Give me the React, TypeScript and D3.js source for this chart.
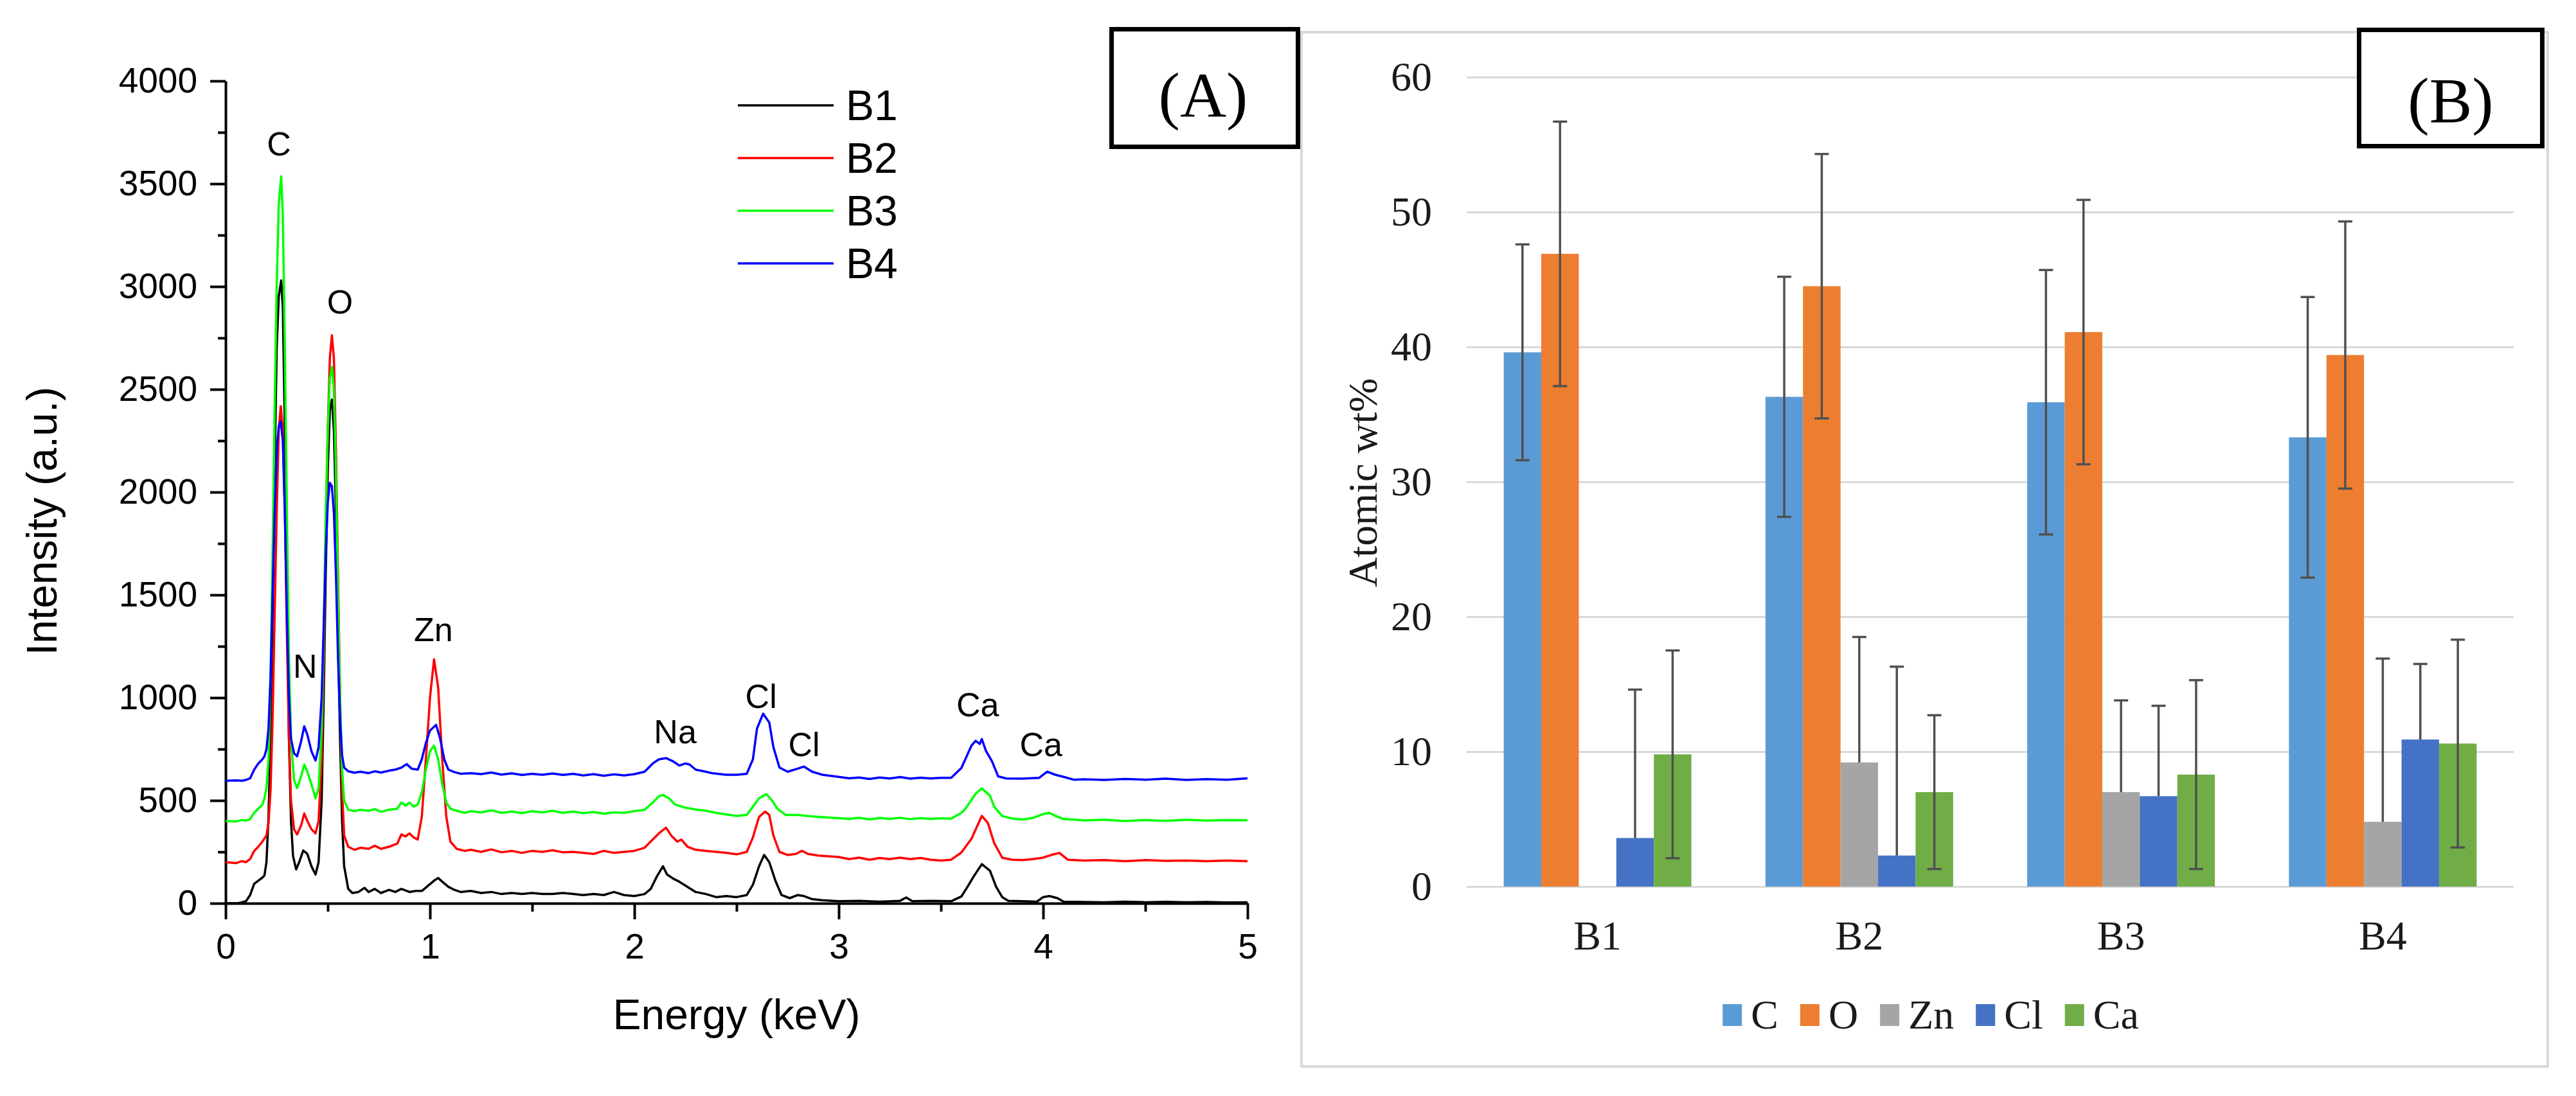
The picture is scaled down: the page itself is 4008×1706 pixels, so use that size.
import { useEffect, useRef } from 'react'
import * as d3 from 'd3'

// ---------- Panel A: EDS spectra (energy keV, intensity a.u.) ----------
const spectrumNames = ['B1', 'B2', 'B3', 'B4']
const spectrumColors = ['#000000', '#ff0000', '#00ff00', '#0000ff']

const spectrumB1: [number, number][] = [
  [0, 0], [0.06, 0], [0.08, 5], [0.1, 10], [0.12, 40], [0.14, 95], [0.16, 110], [0.18, 125], [0.19, 135],
  [0.2, 200], [0.21, 420], [0.22, 800], [0.23, 1400], [0.24, 2100], [0.25, 2700], [0.26, 2950], [0.272, 3030],
  [0.28, 2900], [0.29, 2300], [0.3, 1500], [0.31, 800], [0.32, 400], [0.33, 230], [0.345, 165], [0.36, 200],
  [0.38, 257], [0.4, 240], [0.42, 180], [0.44, 140], [0.455, 200], [0.47, 500], [0.48, 1000], [0.49, 1600],
  [0.5, 2100], [0.51, 2400], [0.52, 2450], [0.53, 2300], [0.54, 1900], [0.55, 1300], [0.56, 800], [0.57, 400],
  [0.58, 180], [0.6, 70], [0.62, 50], [0.65, 55], [0.68, 75], [0.7, 55], [0.73, 70], [0.76, 50], [0.8, 65],
  [0.83, 55], [0.86, 70], [0.9, 55], [0.93, 60], [0.96, 60], [0.99, 85], [1.02, 110], [1.04, 123], [1.06, 105],
  [1.09, 80], [1.12, 65], [1.15, 55], [1.2, 60], [1.25, 50], [1.3, 55], [1.35, 45], [1.4, 50], [1.45, 45],
  [1.5, 50], [1.55, 45], [1.6, 45], [1.65, 50], [1.7, 45], [1.75, 40], [1.8, 45], [1.85, 40], [1.9, 55],
  [1.95, 40], [2.0, 35], [2.05, 45], [2.08, 70], [2.11, 130], [2.14, 180], [2.16, 140], [2.19, 120], [2.22, 105],
  [2.26, 80], [2.3, 55], [2.35, 45], [2.4, 30], [2.45, 35], [2.5, 30], [2.55, 40], [2.58, 90], [2.61, 180],
  [2.635, 235], [2.66, 200], [2.69, 110], [2.72, 40], [2.76, 25], [2.8, 40], [2.83, 35], [2.87, 20], [2.92, 15],
  [3.0, 10], [3.1, 12], [3.2, 8], [3.3, 12], [3.33, 28], [3.36, 10], [3.45, 12], [3.55, 10], [3.6, 33],
  [3.63, 80], [3.66, 130], [3.7, 190], [3.74, 158], [3.77, 80], [3.8, 30], [3.83, 12], [3.9, 10], [3.97, 8],
  [4.0, 30], [4.03, 35], [4.07, 25], [4.1, 8], [4.2, 6], [4.3, 5], [4.4, 8], [4.5, 5], [4.6, 7], [4.7, 5],
  [4.8, 6], [4.9, 4], [5.0, 5],
]

const spectrumB2: [number, number][] = [
  [0, 200], [0.05, 195], [0.08, 205], [0.1, 200], [0.12, 215], [0.14, 255], [0.16, 275], [0.18, 300], [0.2, 330],
  [0.21, 390], [0.22, 550], [0.23, 900], [0.24, 1400], [0.25, 1900], [0.26, 2300], [0.27, 2418], [0.28, 2300],
  [0.29, 1900], [0.3, 1300], [0.31, 800], [0.32, 500], [0.335, 360], [0.35, 335], [0.37, 380], [0.385, 437],
  [0.4, 400], [0.42, 360], [0.44, 340], [0.455, 400], [0.47, 700], [0.48, 1200], [0.49, 1800], [0.5, 2300],
  [0.51, 2650], [0.52, 2763], [0.53, 2650], [0.54, 2200], [0.55, 1600], [0.56, 1000], [0.57, 550], [0.58, 330],
  [0.6, 275], [0.63, 260], [0.66, 270], [0.7, 265], [0.73, 280], [0.76, 265], [0.8, 275], [0.84, 290],
  [0.86, 335], [0.88, 325], [0.9, 340], [0.92, 320], [0.94, 310], [0.96, 420], [0.98, 700], [1.0, 1000],
  [1.02, 1187], [1.04, 1050], [1.06, 700], [1.08, 420], [1.1, 300], [1.13, 265], [1.17, 255], [1.2, 260],
  [1.25, 250], [1.3, 262], [1.35, 248], [1.4, 255], [1.45, 245], [1.5, 255], [1.55, 250], [1.6, 258],
  [1.65, 248], [1.7, 250], [1.75, 245], [1.8, 240], [1.85, 255], [1.9, 245], [1.95, 250], [2.0, 255],
  [2.05, 270], [2.09, 310], [2.12, 340], [2.155, 368], [2.18, 330], [2.21, 300], [2.23, 310], [2.26, 275],
  [2.3, 260], [2.35, 255], [2.4, 250], [2.45, 245], [2.5, 238], [2.55, 250], [2.58, 320], [2.61, 420],
  [2.64, 446], [2.66, 430], [2.68, 330], [2.71, 250], [2.75, 235], [2.79, 240], [2.82, 255], [2.85, 240],
  [2.9, 232], [3.0, 225], [3.05, 215], [3.1, 222], [3.15, 212], [3.2, 220], [3.25, 215], [3.3, 222],
  [3.35, 215], [3.4, 220], [3.45, 212], [3.5, 208], [3.55, 212], [3.6, 247], [3.65, 315], [3.7, 425],
  [3.73, 390], [3.76, 294], [3.8, 221], [3.85, 212], [3.9, 210], [3.95, 215], [4.0, 222], [4.04, 235],
  [4.08, 245], [4.12, 212], [4.2, 208], [4.3, 210], [4.4, 205], [4.5, 210], [4.6, 206], [4.7, 208],
  [4.8, 205], [4.9, 208], [5.0, 205],
]

const spectrumB3: [number, number][] = [
  [0, 400], [0.05, 398], [0.08, 405], [0.1, 402], [0.12, 410], [0.14, 440], [0.16, 460], [0.18, 480], [0.19, 510],
  [0.2, 560], [0.21, 700], [0.22, 1100], [0.23, 1700], [0.24, 2400], [0.25, 3000], [0.26, 3400], [0.272, 3536],
  [0.28, 3350], [0.29, 2700], [0.3, 1900], [0.31, 1200], [0.32, 800], [0.335, 600], [0.35, 560], [0.37, 620],
  [0.385, 675], [0.4, 640], [0.42, 580], [0.44, 510], [0.455, 560], [0.47, 850], [0.48, 1300], [0.49, 1900],
  [0.5, 2300], [0.51, 2550], [0.52, 2609], [0.53, 2500], [0.54, 2100], [0.55, 1500], [0.56, 1000], [0.57, 650],
  [0.58, 500], [0.6, 455], [0.63, 448], [0.66, 455], [0.7, 450], [0.73, 458], [0.76, 445], [0.8, 455],
  [0.84, 460], [0.86, 490], [0.88, 475], [0.9, 490], [0.92, 470], [0.94, 480], [0.96, 540], [0.98, 650],
  [1.0, 740], [1.02, 767], [1.04, 700], [1.06, 580], [1.08, 490], [1.1, 460], [1.13, 450], [1.17, 440],
  [1.2, 448], [1.25, 442], [1.3, 452], [1.35, 440], [1.4, 446], [1.45, 438], [1.5, 448], [1.55, 442],
  [1.6, 450], [1.65, 440], [1.7, 446], [1.75, 438], [1.8, 444], [1.85, 436], [1.9, 442], [1.95, 440],
  [2.0, 448], [2.05, 455], [2.09, 490], [2.12, 520], [2.14, 527], [2.17, 510], [2.2, 480], [2.25, 465],
  [2.3, 456], [2.35, 450], [2.4, 440], [2.45, 432], [2.5, 425], [2.55, 430], [2.58, 470], [2.61, 510],
  [2.645, 531], [2.67, 505], [2.7, 460], [2.74, 430], [2.8, 430], [2.85, 424], [2.9, 420], [3.0, 414],
  [3.05, 410], [3.1, 416], [3.15, 408], [3.2, 415], [3.25, 410], [3.3, 416], [3.35, 409], [3.4, 414],
  [3.45, 410], [3.5, 413], [3.55, 412], [3.6, 440], [3.62, 460], [3.67, 533], [3.7, 559], [3.74, 523],
  [3.76, 471], [3.8, 424], [3.85, 412], [3.9, 408], [3.95, 415], [4.0, 434], [4.03, 440], [4.06, 425],
  [4.1, 410], [4.2, 403], [4.3, 406], [4.4, 400], [4.5, 405], [4.6, 401], [4.7, 406], [4.8, 402],
  [4.9, 405], [5.0, 404],
]

const spectrumB4: [number, number][] = [
  [0, 596], [0.05, 598], [0.08, 596], [0.1, 600], [0.12, 608], [0.14, 650], [0.16, 680], [0.18, 700], [0.19, 715],
  [0.2, 750], [0.21, 850], [0.22, 1100], [0.23, 1500], [0.24, 1900], [0.25, 2200], [0.26, 2320], [0.27, 2344],
  [0.28, 2250], [0.29, 1900], [0.3, 1400], [0.31, 1000], [0.32, 800], [0.335, 730], [0.35, 715], [0.37, 790],
  [0.385, 861], [0.4, 820], [0.42, 740], [0.44, 694], [0.455, 760], [0.47, 1000], [0.48, 1350], [0.49, 1700],
  [0.5, 1950], [0.51, 2045], [0.52, 2030], [0.53, 1900], [0.54, 1600], [0.55, 1200], [0.56, 900], [0.57, 720],
  [0.58, 660], [0.6, 642], [0.63, 635], [0.66, 640], [0.7, 633], [0.73, 642], [0.76, 636], [0.8, 645],
  [0.83, 650], [0.86, 660], [0.886, 677], [0.91, 655], [0.94, 650], [0.96, 700], [0.98, 780], [1.0, 840],
  [1.03, 868], [1.05, 800], [1.07, 700], [1.09, 650], [1.12, 638], [1.15, 630], [1.2, 633], [1.25, 628],
  [1.3, 636], [1.35, 626], [1.4, 632], [1.45, 624], [1.5, 630], [1.55, 625], [1.6, 631], [1.65, 624],
  [1.7, 630], [1.75, 622], [1.8, 628], [1.85, 620], [1.9, 627], [1.95, 622], [2.0, 628], [2.05, 640],
  [2.09, 680], [2.12, 700], [2.156, 706], [2.19, 690], [2.22, 670], [2.25, 680], [2.27, 675], [2.3, 650],
  [2.35, 640], [2.38, 633], [2.45, 625], [2.5, 625], [2.55, 630], [2.58, 700], [2.6, 850], [2.63, 922],
  [2.66, 880], [2.68, 760], [2.71, 660], [2.75, 640], [2.8, 655], [2.83, 665], [2.87, 640], [2.92, 625],
  [3.0, 615], [3.05, 608], [3.1, 612], [3.15, 605], [3.2, 612], [3.25, 607], [3.3, 614], [3.35, 606],
  [3.4, 611], [3.45, 607], [3.5, 610], [3.55, 610], [3.6, 658], [3.65, 768], [3.67, 790], [3.69, 775],
  [3.7, 799], [3.72, 742], [3.75, 690], [3.78, 617], [3.82, 607], [3.9, 606], [3.98, 610], [4.02, 640],
  [4.06, 625], [4.1, 615], [4.15, 601], [4.2, 603], [4.3, 600], [4.4, 605], [4.5, 601], [4.6, 606],
  [4.7, 600], [4.8, 604], [4.9, 601], [5.0, 608],
]

const spectra = [spectrumB1, spectrumB2, spectrumB3, spectrumB4]

// peak annotations (label, energy keV, intensity at text baseline)
const peakLabels = ['C', 'O', 'N', 'Zn', 'Na', 'Cl', 'Cl', 'Ca', 'Ca']
const peakEnergy = [0.261, 0.56, 0.389, 1.017, 2.2, 2.62, 2.83, 3.68, 3.99]
const peakLabelY = [3637, 2869, 1097, 1275, 778, 950, 716, 909, 716]

const xTicksA = [0, 1, 2, 3, 4, 5]
const xMinorA = [0.5, 1.5, 2.5, 3.5, 4.5]
const yTicksA = [0, 500, 1000, 1500, 2000, 2500, 3000, 3500, 4000]
const yMinorA = [250, 750, 1250, 1750, 2250, 2750, 3250, 3750]

// ---------- Panel B: atomic wt% ----------
const samples = ['B1', 'B2', 'B3', 'B4']
const elements = ['C', 'O', 'Zn', 'Cl', 'Ca']
const elementColors = ['#5b9bd5', '#ed7d31', '#a5a5a5', '#4472c4', '#70ad47']
const valC = [39.6, 36.3, 35.9, 33.3]
const valO = [46.9, 44.5, 41.1, 39.4]
const valZn = [0, 9.2, 7.0, 4.8]
const valCl = [3.6, 2.3, 6.7, 10.9]
const valCa = [9.8, 7.0, 8.3, 10.6]
const errPlusC = [8.0, 8.9, 9.8, 10.4]
const errPlusO = [9.8, 9.8, 9.8, 9.9]
const errPlusZn = [0, 9.3, 6.8, 12.1]
const errPlusCl = [11.0, 14.0, 6.7, 5.6]
const errPlusCa = [7.7, 5.7, 7.0, 7.7]
const errMinusC = [8.0, 8.9, 9.8, 10.4]
const errMinusO = [9.8, 9.8, 9.8, 9.9]
const errMinusZn = [0, 0, 0, 0]
const errMinusCl = [0, 0, 0, 0]
const errMinusCa = [7.7, 5.7, 7.0, 7.7]
const yTicksB = [0, 10, 20, 30, 40, 50, 60]

const sans = '"Liberation Sans", Arial, sans-serif'
const serif = '"Liberation Serif", "Times New Roman", serif'

export default function App() {
  const ref = useRef<SVGSVGElement>(null)

  useEffect(() => {
    if (!ref.current) return
    const svg = d3.select(ref.current)
    svg.selectAll('*').remove()

    // ===== Panel A =====
    const x = d3.scaleLinear().domain([0, 5]).range([351, 1941])
    const y = d3.scaleLinear().domain([0, 4000]).range([1406, 126])
    const gA = svg.append('g')

    // minor ticks
    const xMinor = gA.append('g').attr('transform', `translate(0,${y(0)})`)
      .call(d3.axisBottom(x).tickValues(xMinorA).tickSize(13).tickFormat(() => '').tickSizeOuter(0))
    xMinor.select('.domain').remove()
    const yMinor = gA.append('g').attr('transform', `translate(${x(0)},0)`)
      .call(d3.axisLeft(y).tickValues(yMinorA).tickSize(12).tickFormat(() => '').tickSizeOuter(0))
    yMinor.select('.domain').remove()

    const xAx = gA.append('g').attr('transform', `translate(0,${y(0)})`)
      .call(d3.axisBottom(x).tickValues(xTicksA).tickSize(25).tickPadding(22).tickFormat(d3.format('d')).tickSizeOuter(0))
    const yAx = gA.append('g').attr('transform', `translate(${x(0)},0)`)
      .call(d3.axisLeft(y).tickValues(yTicksA).tickSize(24).tickPadding(20).tickFormat(d3.format('d')).tickSizeOuter(0))
    ;[xAx, yAx, xMinor, yMinor].forEach(a => {
      a.selectAll('line').attr('stroke', '#000').attr('stroke-width', 4)
      a.select('.domain').attr('stroke', '#000').attr('stroke-width', 4)
      a.selectAll('text').style('font-family', sans).style('font-size', '55px').attr('fill', '#000')
    })

    // spectra
    const line = d3.line<[number, number]>().x(d => x(d[0])).y(d => y(d[1]))
    spectra.forEach((s, i) => {
      gA.append('path')
        .attr('d', line(s))
        .attr('fill', 'none')
        .attr('stroke', spectrumColors[i])
        .attr('stroke-width', 3.5)
        .attr('stroke-linejoin', 'round')
    })

    // peak labels
    peakLabels.forEach((p, i) => {
      gA.append('text')
        .attr('x', x(peakEnergy[i]))
        .attr('y', y(peakLabelY[i]))
        .attr('text-anchor', 'middle')
        .style('font-family', sans)
        .style('font-size', '52px')
        .text(p)
    })

    // axis titles
    gA.append('text')
      .attr('transform', `translate(88,811) rotate(-90)`)
      .attr('text-anchor', 'middle')
      .style('font-family', sans)
      .style('font-size', '66px')
      .text('Intensity (a.u.)')
    gA.append('text')
      .attr('x', (x(0) + x(5)) / 2)
      .attr('y', 1602)
      .attr('text-anchor', 'middle')
      .style('font-family', sans)
      .style('font-size', '66px')
      .text('Energy (keV)')

    // legend
    spectrumNames.forEach((n, i) => {
      const ly = 164 + i * 82
      gA.append('line')
        .attr('x1', 1148).attr('x2', 1297).attr('y1', ly).attr('y2', ly)
        .attr('stroke', spectrumColors[i]).attr('stroke-width', 3.5)
      gA.append('text')
        .attr('x', 1316).attr('y', ly + 23)
        .style('font-family', sans)
        .style('font-size', '66px')
        .text(n)
    })

    // (A) box
    gA.append('rect')
      .attr('x', 1729.5).attr('y', 45.5).attr('width', 290).attr('height', 183)
      .attr('fill', '#fff').attr('stroke', '#000').attr('stroke-width', 7)
    gA.append('text')
      .attr('x', 1872).attr('y', 182)
      .attr('text-anchor', 'middle')
      .style('font-family', serif)
      .style('font-size', '100px')
      .text('(A)')

    // ===== Panel B =====
    const gB = svg.append('g')
    gB.append('rect')
      .attr('x', 2025).attr('y', 50).attr('width', 1939).attr('height', 1610)
      .attr('fill', '#fff').attr('stroke', '#d9d9d9').attr('stroke-width', 4)

    const yB = d3.scaleLinear().domain([0, 60]).range([1380, 120])
    const xB = d3.scaleBand().domain(samples).range([2282, 3911]).paddingInner(0.283).paddingOuter(0.1415)
    const xS = d3.scaleBand().domain(elements).range([0, xB.bandwidth()])

    const grid = gB.append('g').attr('transform', 'translate(2282,0)')
      .call(d3.axisLeft(yB).tickValues(yTicksB).tickSize(-(3911 - 2282)).tickPadding(54).tickSizeOuter(0))
    grid.select('.domain').remove()
    grid.selectAll('line').attr('stroke', '#d9d9d9').attr('stroke-width', 3)
    grid.selectAll('text').style('font-family', serif).style('font-size', '64px').attr('fill', '#1a1a1a')

    const values = [valC, valO, valZn, valCl, valCa]
    const errPlus = [errPlusC, errPlusO, errPlusZn, errPlusCl, errPlusCa]
    const errMinus = [errMinusC, errMinusO, errMinusZn, errMinusCl, errMinusCa]

    elements.forEach((el, ei) => {
      samples.forEach((s, si) => {
        const v = values[ei][si]
        if (v <= 0) return
        gB.append('rect')
          .attr('x', (xB(s) ?? 0) + (xS(el) ?? 0))
          .attr('y', yB(v))
          .attr('width', xS.bandwidth())
          .attr('height', yB(0) - yB(v))
          .attr('fill', elementColors[ei])
      })
    })

    // error bars on top of bars
    const cap = 11
    elements.forEach((el, ei) => {
      samples.forEach((s, si) => {
        const v = values[ei][si]
        const ep = errPlus[ei][si]
        const em = errMinus[ei][si]
        if (ep <= 0 && em <= 0) return
        const cx = (xB(s) ?? 0) + (xS(el) ?? 0) + xS.bandwidth() / 2
        const top = v + ep
        const bot = v - em
        const eg = gB.append('g').attr('stroke', '#505050').attr('stroke-width', 3.5)
        eg.append('line').attr('x1', cx).attr('x2', cx).attr('y1', yB(top)).attr('y2', yB(em > 0 ? bot : v))
        eg.append('line').attr('x1', cx - cap).attr('x2', cx + cap).attr('y1', yB(top)).attr('y2', yB(top))
        if (em > 0) eg.append('line').attr('x1', cx - cap).attr('x2', cx + cap).attr('y1', yB(bot)).attr('y2', yB(bot))
      })
    })

    // category labels
    samples.forEach(s => {
      gB.append('text')
        .attr('x', (xB(s) ?? 0) + xB.bandwidth() / 2)
        .attr('y', 1478)
        .attr('text-anchor', 'middle')
        .style('font-family', serif)
        .style('font-size', '64px')
        .attr('fill', '#1a1a1a')
        .text(s)
    })

    // y title
    gB.append('text')
      .attr('transform', 'translate(2142,751) rotate(-90)')
      .attr('text-anchor', 'middle')
      .style('font-family', serif)
      .style('font-size', '64px')
      .attr('fill', '#1a1a1a')
      .text('Atomic wt%')

    // legend, centred under the panel
    const lg = gB.append('g')
    let lx = 0
    elements.forEach((el, ei) => {
      lg.append('rect').attr('x', lx).attr('y', -17).attr('width', 30).attr('height', 34).attr('fill', elementColors[ei])
      const t = lg.append('text')
        .attr('x', lx + 44).attr('y', 21)
        .style('font-family', serif)
        .style('font-size', '64px')
        .attr('fill', '#1a1a1a')
        .text(el)
      const w = (t.node() as SVGTextElement).getComputedTextLength()
      lx += 44 + w + 34
    })
    const totalW = lx - 34
    lg.attr('transform', `translate(${3004 - totalW / 2},1580)`)

    // (B) box
    gB.append('rect')
      .attr('x', 3670.5).attr('y', 46.5).attr('width', 285).attr('height', 181)
      .attr('fill', '#fff').attr('stroke', '#000').attr('stroke-width', 7)
    gB.append('text')
      .attr('x', 3813).attr('y', 190)
      .attr('text-anchor', 'middle')
      .style('font-family', serif)
      .style('font-size', '100px')
      .text('(B)')
  }, [])

  return (
    <svg
      ref={ref}
      width={4008}
      height={1706}
      viewBox="0 0 4008 1706"
      style={{ position: 'fixed', left: 0, top: 0, background: '#fff', display: 'block' }}
    />
  )
}
